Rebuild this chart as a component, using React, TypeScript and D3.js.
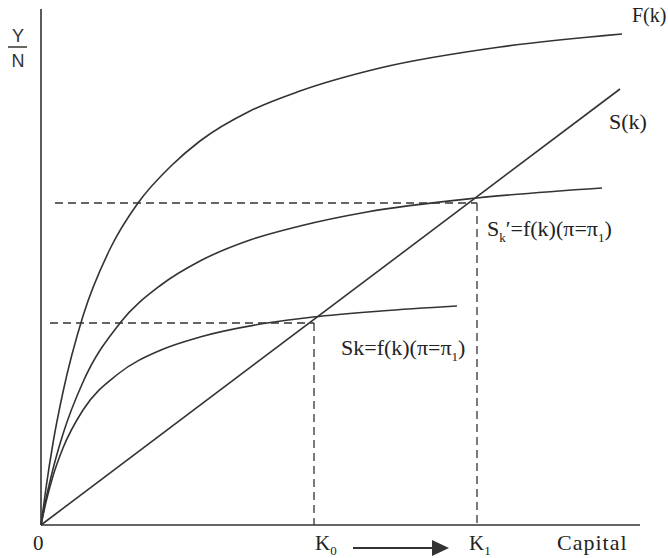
import React from "react";
import * as d3 from "d3";

// Output per worker F(k) against capital per worker.
const productionF: [number, number][] = [
  [0, 0], [5, 37], [12, 82], [22, 133], [42, 209], [70, 278], [97, 322], [130, 359],
  [159, 384], [209, 414], [259, 434], [339, 457], [459, 478], [581, 491],
];
// Savings curve at the higher level (S_k').
const savingsHigh: [number, number][] = [
  [0, 0], [5, 26], [12, 56], [22, 91], [42, 143], [79, 202], [120, 240], [159, 264],
  [209, 285], [259, 299], [326, 313], [436, 327], [561, 337],
];
// Savings curve at the lower level (Sk).
const savingsLow: [number, number][] = [
  [0, 0], [5, 23], [12, 49], [22, 77], [42, 115], [77, 151], [120, 175], [159, 188],
  [226, 202], [272, 208], [340, 214], [416, 219],
];
// Straight line S(k).
const requirementLine: [number, number][] = [[0, 0], [579, 436]];
// Capital stocks K0, K1 and the matching output levels for the guides.
const capitalMarks = [273, 436];
const guideLevels = [202, 322];
const guideStarts = [9, 14];

const W = 668;
const H = 558;

export default function App() {
  const x = d3.scaleLinear().domain([0, 600]).range([41, 641]);
  const y = d3.scaleLinear().domain([0, 500]).range([525, 25]);

  const curve = d3
    .line<[number, number]>()
    .x((d) => x(d[0]))
    .y((d) => y(d[1]))
    .curve(d3.curveMonotoneX);
  const straight = d3
    .line<[number, number]>()
    .x((d) => x(d[0]))
    .y((d) => y(d[1]));

  const ink = "#333";
  const serif = "'Liberation Serif', 'Times New Roman', serif";
  const dash = "8 5";

  return (
    <svg
      width={W}
      height={H}
      viewBox={`0 0 ${W} ${H}`}
      style={{ position: "absolute", left: 0, top: 0, background: "#fff" }}
    >
      {/* axes */}
      <line x1={x(0)} y1={9} x2={x(0)} y2={y(0)} stroke={ink} strokeWidth={1.6} />
      <line x1={x(0)} y1={y(0)} x2={640} y2={y(0)} stroke={ink} strokeWidth={1.6} />

      {/* guide lines to K0 and K1 */}
      {capitalMarks.map((k, i) => (
        <g key={k}>
          <line
            x1={x(guideStarts[i])}
            y1={y(guideLevels[i])}
            x2={x(k)}
            y2={y(guideLevels[i])}
            stroke={ink}
            strokeWidth={1.3}
            strokeDasharray={dash}
          />
          <line
            x1={x(k)}
            y1={y(guideLevels[i])}
            x2={x(k)}
            y2={y(0)}
            stroke={ink}
            strokeWidth={1.3}
            strokeDasharray={dash}
          />
        </g>
      ))}

      {/* curves */}
      <path d={curve(productionF) ?? ""} fill="none" stroke={ink} strokeWidth={1.6} />
      <path d={curve(savingsHigh) ?? ""} fill="none" stroke={ink} strokeWidth={1.6} />
      <path d={curve(savingsLow) ?? ""} fill="none" stroke={ink} strokeWidth={1.6} />
      <path d={straight(requirementLine) ?? ""} fill="none" stroke={ink} strokeWidth={1.6} />

      {/* vertical axis title */}
      <g fontFamily="'Liberation Sans', Arial, sans-serif" fontSize={18} fill={ink} textAnchor="middle">
        <text x={18} y={42}>Y</text>
        <line x1={8} y1={47} x2={27} y2={47} stroke={ink} strokeWidth={1.5} />
        <text x={18} y={67}>N</text>
      </g>

      {/* curve labels */}
      <g fontFamily={serif} fontSize={22} fill="#222">
        <text x={632} y={22} fontSize={20}>F(k)</text>
        <text x={609} y={129}>S(k)</text>
        <text x={487} y={236}>
          S<tspan fontSize={13} dy={6}>k</tspan>
          <tspan dy={-6}>′=f(k)(π=π</tspan>
          <tspan fontSize={13} dy={6}>1</tspan>
          <tspan dy={-6}>)</tspan>
        </text>
        <text x={341} y={355}>
          Sk=f(k)(π=π<tspan fontSize={13} dy={6}>1</tspan>
          <tspan dy={-6}>)</tspan>
        </text>
      </g>

      {/* horizontal axis labels */}
      <g fontFamily={serif} fontSize={21} fill="#222">
        <text x={33} y={550}>0</text>
        <text x={315} y={550}>
          K<tspan fontSize={13} dy={5}>0</tspan>
        </text>
        <text x={469} y={550}>
          K<tspan fontSize={13} dy={5}>1</tspan>
        </text>
        <text x={557} y={550} fontSize={22} letterSpacing={1}>Capital</text>
      </g>
      <line x1={353} y1={548} x2={434} y2={548} stroke={ink} strokeWidth={1.8} />
      <path d="M432,540 L449,548 L432,556 Z" fill={ink} />
    </svg>
  );
}
